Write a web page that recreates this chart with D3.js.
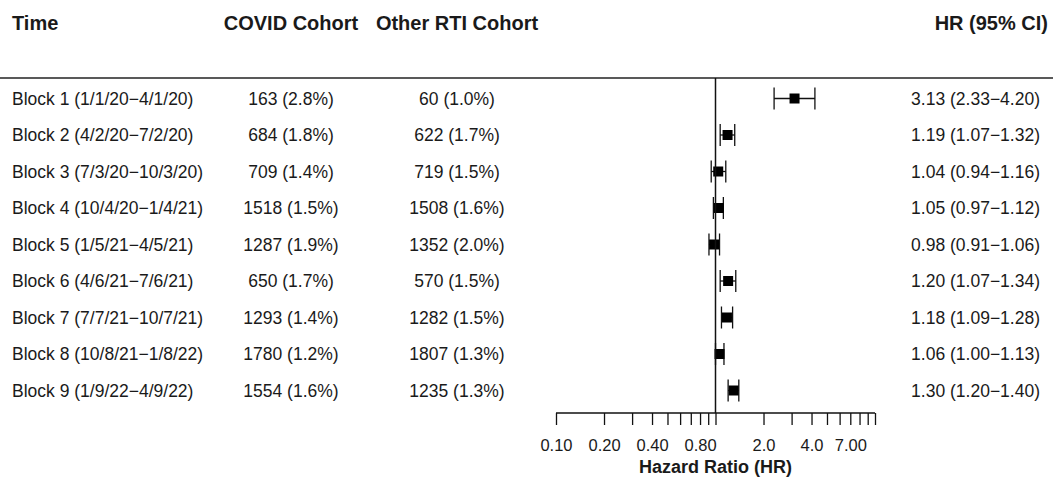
<!DOCTYPE html>
<html>
<head>
<meta charset="utf-8">
<script src="https://cdn.jsdelivr.net/npm/d3@7"></script>
<style>
  body { margin: 0; background: #fff; }
  text { font-family: "Liberation Sans", Arial, sans-serif; fill: #1a1a1a; }
</style>
</head>
<body>
<div id="chart"></div>
<script>
// forest plot data
const blocks = [
  "Block 1 (1/1/20\u22124/1/20)",
  "Block 2 (4/2/20\u22127/2/20)",
  "Block 3 (7/3/20\u221210/3/20)",
  "Block 4 (10/4/20\u22121/4/21)",
  "Block 5 (1/5/21\u22124/5/21)",
  "Block 6 (4/6/21\u22127/6/21)",
  "Block 7 (7/7/21\u221210/7/21)",
  "Block 8 (10/8/21\u22121/8/22)",
  "Block 9 (1/9/22\u22124/9/22)"
];
const covidCohort = ["163 (2.8%)", "684 (1.8%)", "709 (1.4%)", "1518 (1.5%)", "1287 (1.9%)",
  "650 (1.7%)", "1293 (1.4%)", "1780 (1.2%)", "1554 (1.6%)"];
const otherCohort = ["60 (1.0%)", "622 (1.7%)", "719 (1.5%)", "1508 (1.6%)", "1352 (2.0%)",
  "570 (1.5%)", "1282 (1.5%)", "1807 (1.3%)", "1235 (1.3%)"];
const hr    = [3.13, 1.19, 1.04, 1.05, 0.98, 1.20, 1.18, 1.06, 1.30];
const lower = [2.33, 1.07, 0.94, 0.97, 0.91, 1.07, 1.09, 1.00, 1.20];
const upper = [4.20, 1.32, 1.16, 1.12, 1.06, 1.34, 1.28, 1.13, 1.40];
const tickValues = [0.1, 0.2, 0.4, 0.8, 2, 4, 7];
const tickLabels = ["0.10", "0.20", "0.40", "0.80", "2.0", "4.0", "7.00"];

const width = 1053, height = 479;
const svg = d3.select("#chart").append("svg")
  .attr("width", width)
  .attr("height", height);

const x = d3.scaleLog().domain([0.1, 10]).range([556, 875]);
const y = d3.scalePoint().domain(d3.range(blocks.length)).range([98.5, 390.5]);
const axisY = 413;

const fmt = d3.format(".2f");

// header
const headers = [
  { t: "Time", x: 12, anchor: "start" },
  { t: "COVID Cohort", x: 291, anchor: "middle" },
  { t: "Other RTI Cohort", x: 457, anchor: "middle" },
  { t: "HR (95% CI)", x: 1048, anchor: "end" }
];
svg.selectAll(".hdr")
  .data(headers)
  .enter().append("text")
  .attr("x", d => d.x)
  .attr("y", 30)
  .attr("text-anchor", d => d.anchor)
  .style("font-size", "20px")
  .style("font-weight", "bold")
  .text(d => d.t);

svg.append("line")
  .attr("x1", 0).attr("x2", width)
  .attr("y1", 78).attr("y2", 78)
  .attr("stroke", "#222").attr("stroke-width", 1.5);

// text columns
const rows = svg.selectAll(".row")
  .data(d3.range(blocks.length))
  .enter().append("g")
  .attr("transform", i => `translate(0,${y(i)})`);

rows.append("text").attr("x", 12).attr("dy", "0.35em")
  .style("font-size", "17.5px").text(i => blocks[i]);
rows.append("text").attr("x", 291).attr("dy", "0.35em").attr("text-anchor", "middle")
  .style("font-size", "17.5px").text(i => covidCohort[i]);
rows.append("text").attr("x", 457).attr("dy", "0.35em").attr("text-anchor", "middle")
  .style("font-size", "17.5px").text(i => otherCohort[i]);
rows.append("text").attr("x", 1040).attr("dy", "0.35em").attr("text-anchor", "end")
  .style("font-size", "17.5px")
  .text(i => `${fmt(hr[i])} (${fmt(lower[i])}\u2212${fmt(upper[i])})`);

// reference line at HR = 1
svg.append("line")
  .attr("x1", x(1)).attr("x2", x(1))
  .attr("y1", 78).attr("y2", axisY)
  .attr("stroke", "#111").attr("stroke-width", 1.5);

// CI whiskers + boxes
rows.append("line")
  .attr("x1", i => x(lower[i])).attr("x2", i => x(upper[i]))
  .attr("stroke", "#111").attr("stroke-width", 1.3);
rows.append("line")
  .attr("x1", i => x(lower[i])).attr("x2", i => x(lower[i]))
  .attr("y1", -11).attr("y2", 11)
  .attr("stroke", "#111").attr("stroke-width", 1.3);
rows.append("line")
  .attr("x1", i => x(upper[i])).attr("x2", i => x(upper[i]))
  .attr("y1", -11).attr("y2", 11)
  .attr("stroke", "#111").attr("stroke-width", 1.3);
rows.append("rect")
  .attr("x", i => x(hr[i]) - 5).attr("y", -5)
  .attr("width", 10).attr("height", 10)
  .attr("fill", "#000");

// axis: minor ticks at every 0.1 / 1 step, labels only at chosen values
const allTicks = d3.range(1, 10).map(d => d / 10).concat(d3.range(1, 11));
const axis = d3.axisBottom(x)
  .tickValues(allTicks)
  .tickSize(12)
  .tickFormat(d => {
    const k = tickValues.findIndex(v => Math.abs(v - d) < 1e-9);
    return k >= 0 ? tickLabels[k] : "";
  });

const gAxis = svg.append("g")
  .attr("transform", `translate(0,${axisY})`)
  .call(axis);
gAxis.select(".domain").attr("stroke", "#111").attr("stroke-width", 1.5)
  .attr("d", `M${x(0.1)},0H${x(10)}`);
gAxis.selectAll(".tick line").attr("stroke", "#111").attr("stroke-width", 1.3);
gAxis.selectAll(".tick text")
  .attr("y", 26)
  .style("font-size", "16.5px")
  .style("font-family", "'Liberation Sans', Arial, sans-serif")
  .attr("fill", "#1a1a1a");

svg.append("text")
  .attr("x", x(1))
  .attr("y", 473)
  .attr("text-anchor", "middle")
  .style("font-size", "18px")
  .style("font-weight", "bold")
  .text("Hazard Ratio (HR)");
</script>
</body>
</html>
